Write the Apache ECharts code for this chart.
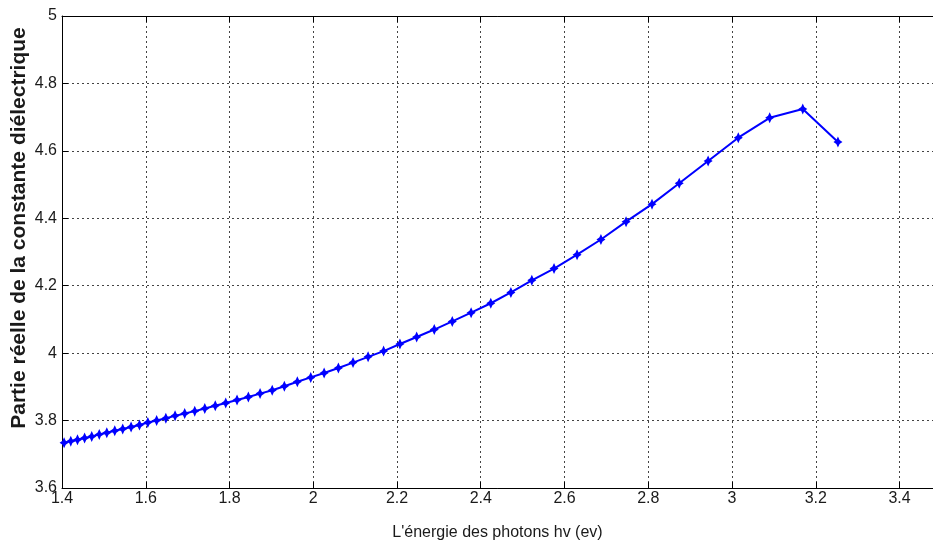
<!DOCTYPE html>
<html>
<head>
<meta charset="utf-8">
<script src="https://cdn.jsdelivr.net/npm/echarts@6/dist/echarts.min.js"></script>
<style>
html,body{margin:0;padding:0;background:#fff;}
#chart{width:933px;height:547px;}
</style>
</head>
<body>
<div id="chart"></div>
<script>
// Photon energy (eV)
const energy = [1.405,1.421,1.437,1.454,1.471,1.489,1.507,1.526,1.545,1.565,1.585,1.605,1.626,1.648,1.670,1.693,1.717,1.741,1.766,1.791,1.818,1.845,1.873,1.902,1.931,1.962,1.994,2.026,2.060,2.095,2.131,2.168,2.207,2.247,2.289,2.332,2.377,2.424,2.472,2.522,2.575,2.630,2.687,2.747,2.809,2.874,2.943,3.015,3.090,3.169,3.253];
// Real part of the dielectric constant
const epsReal = [3.734,3.739,3.743,3.748,3.753,3.759,3.764,3.770,3.775,3.781,3.787,3.794,3.800,3.807,3.814,3.821,3.828,3.836,3.844,3.852,3.861,3.870,3.880,3.890,3.902,3.915,3.928,3.941,3.956,3.972,3.989,4.006,4.027,4.048,4.070,4.094,4.120,4.148,4.180,4.216,4.251,4.292,4.337,4.390,4.442,4.504,4.570,4.639,4.698,4.724,4.626];
const xRange = [1.4, 3.48];
const yRange = [3.6, 5];
const tickStep = 0.2;
const xTitle = "L'énergie des photons hv (ev)";
const yTitle = "Partie réelle de la constante diélectrique";

const chart = echarts.init(document.getElementById('chart'), null, {renderer: 'canvas'});
const labelFont = {color: '#1a1a1a', fontSize: 16, fontFamily: "'Liberation Sans Narrow','Arial Narrow','Liberation Sans',Arial,sans-serif"};
const gridLine = {show: true, lineStyle: {color: '#444', width: 1, type: [2, 3]}};
const axisLine = {show: true, onZero: false, lineStyle: {color: '#000', width: 1}};

chart.setOption({
  animation: false,
  backgroundColor: '#fff',
  grid: {left: 62, top: 16, right: 0, bottom: 59, containLabel: false},
  xAxis: [{
    type: 'value', min: xRange[0], max: xRange[1], interval: tickStep,
    position: 'bottom',
    axisLine: axisLine,
    axisTick: {show: true, inside: true, length: 6, lineStyle: {color: '#000'}},
    axisLabel: Object.assign({margin: 3, showMaxLabel: false, formatter: v => String(+v.toFixed(1))}, labelFont),
    splitLine: gridLine,
    name: xTitle, nameLocation: 'middle', nameGap: 37,
    nameTextStyle: {color: '#1a1a1a', fontSize: 16, fontFamily: "'Liberation Sans',Arial,sans-serif"}
  }, {
    type: 'value', min: xRange[0], max: xRange[1], interval: tickStep,
    position: 'top',
    axisLine: axisLine,
    axisTick: {show: true, inside: true, length: 6, lineStyle: {color: '#000'}},
    axisLabel: {show: false},
    splitLine: {show: false}
  }],
  yAxis: {
    type: 'value', min: yRange[0], max: yRange[1], interval: tickStep,
    axisLine: axisLine,
    axisTick: {show: true, inside: true, length: 6, lineStyle: {color: '#000'}},
    axisLabel: Object.assign({margin: 5, formatter: v => String(+v.toFixed(1))}, labelFont),
    splitLine: gridLine
  },
  graphic: [{
    type: 'text', x: 19, y: 228, rotation: Math.PI / 2,
    style: {text: yTitle, fill: '#1a1a1a', font: "bold 21px 'Liberation Sans', Arial, sans-serif", textAlign: 'center', textVerticalAlign: 'middle'}
  }],
  series: [{
    type: 'line',
    xAxisIndex: 0,
    data: energy.map((e, i) => [e, epsReal[i]]),
    lineStyle: {color: '#0000ff', width: 2},
    symbol: 'path://M0,-5 L1.8,-1.8 L5,0 L1.8,1.8 L0,5 L-1.8,1.8 L-5,0 L-1.8,-1.8 Z',
    symbolSize: [9, 11],
    showAllSymbol: true,
    itemStyle: {color: '#0000ff'}
  }]
});
</script>
</body>
</html>
